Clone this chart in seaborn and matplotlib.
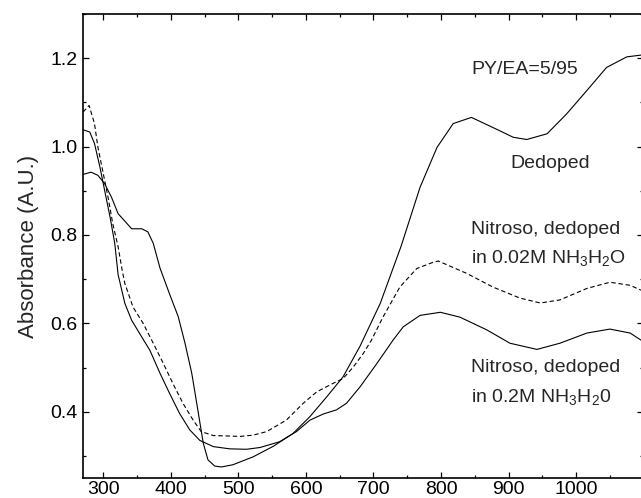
import numpy as np
import pandas as pd
import matplotlib
matplotlib.use("Agg")
import matplotlib.pyplot as plt
import seaborn as sns
from matplotlib.ticker import MultipleLocator

# Dedoped PY/EA=5/95 (solid)
wl_dedoped = [270, 282, 292, 302, 312, 322, 335, 342, 357, 366, 374, 384, 398, 411, 421, 431, 440,
              448, 455, 465, 475, 492, 522, 552, 581, 606, 631, 655, 680, 710, 741, 769, 794, 818,
              845, 877, 907, 927, 957, 986, 1016, 1045, 1075, 1096]
abs_dedoped = [0.937, 0.942, 0.935, 0.916, 0.886, 0.848, 0.826, 0.814, 0.814, 0.807, 0.781, 0.725,
               0.667, 0.615, 0.555, 0.487, 0.404, 0.329, 0.291, 0.277, 0.275, 0.280, 0.298, 0.322,
               0.351, 0.389, 0.434, 0.479, 0.548, 0.645, 0.775, 0.908, 0.998, 1.052, 1.066, 1.043,
               1.021, 1.016, 1.029, 1.074, 1.127, 1.179, 1.203, 1.207]

# Nitroso, dedoped in 0.02M NH3H2O (dashed)
wl_002 = [270, 279, 287, 292, 300, 307, 314, 322, 328, 332, 344, 359, 374, 389, 403, 418, 433, 445,
          463, 487, 502, 522, 542, 571, 596, 616, 640, 655, 670, 685, 697, 714, 739, 764, 788, 796,
          838, 877, 917, 947, 976, 1016, 1050, 1080, 1096]
abs_002 = [1.078, 1.093, 1.052, 0.999, 0.939, 0.886, 0.826, 0.773, 0.720, 0.690, 0.637, 0.600,
           0.555, 0.509, 0.464, 0.419, 0.381, 0.355, 0.346, 0.345, 0.344, 0.347, 0.355, 0.381,
           0.419, 0.445, 0.464, 0.475, 0.501, 0.532, 0.562, 0.614, 0.682, 0.724, 0.738, 0.741,
           0.713, 0.682, 0.657, 0.646, 0.653, 0.679, 0.693, 0.686, 0.675]

# Nitroso, dedoped in 0.2M NH3H20 (solid)
wl_02 = [270, 280, 287, 295, 302, 310, 317, 322, 332, 342, 357, 369, 384, 398, 413, 428, 443, 463,
         487, 512, 532, 561, 586, 606, 626, 645, 660, 680, 705, 729, 744, 769, 799, 828, 868, 902,
         942, 976, 1016, 1050, 1080, 1096]
abs_02 = [1.038, 1.033, 1.007, 0.954, 0.901, 0.841, 0.781, 0.710, 0.645, 0.607, 0.569, 0.539,
          0.487, 0.442, 0.396, 0.359, 0.335, 0.321, 0.316, 0.315, 0.319, 0.332, 0.355, 0.381,
          0.395, 0.404, 0.419, 0.456, 0.509, 0.562, 0.592, 0.618, 0.625, 0.614, 0.585, 0.555,
          0.541, 0.555, 0.578, 0.587, 0.578, 0.562]

x_ticks = [300, 400, 500, 600, 700, 800, 900, 1000]
y_ticks = [0.4, 0.6, 0.8, 1.0, 1.2]
y_label = "Absorbance (A.U.)"

sns.set_style("ticks")
plt.rcParams["font.family"] = ["Liberation Sans", "DejaVu Sans"]
plt.rcParams["mathtext.default"] = "regular"

W, H = 641, 498
fig = plt.figure(figsize=(W / 100, H / 100), dpi=100)
ax = fig.add_axes([83 / W, 20 / H, (643 - 83) / W, (478 - 14) / H])

df1 = pd.DataFrame({"wl": wl_dedoped, "a": abs_dedoped})
df2 = pd.DataFrame({"wl": wl_002, "a": abs_002})
df3 = pd.DataFrame({"wl": wl_02, "a": abs_02})

sns.lineplot(data=df1, x="wl", y="a", ax=ax, color="black", lw=0.8, sort=False)
sns.lineplot(data=df2, x="wl", y="a", ax=ax, color="black", lw=0.8, sort=False,
             linestyle=(0, (4, 2.5)))
sns.lineplot(data=df3, x="wl", y="a", ax=ax, color="black", lw=0.8, sort=False)

ax.set_xlim(270, 1099)
ax.set_ylim(0.25, 1.30)
ax.set_xticks(x_ticks)
ax.set_yticks(y_ticks)
ax.set_xticklabels([str(t) for t in x_ticks])
ax.set_yticklabels([f"{t:.1f}" for t in y_ticks])
ax.xaxis.set_minor_locator(MultipleLocator(50))
ax.yaxis.set_minor_locator(MultipleLocator(0.1))
ax.tick_params(which="both", direction="in", top=True, right=True, labelsize=14,
               width=0.9, colors="black")
ax.tick_params(which="major", length=4)
ax.tick_params(axis="x", which="major", pad=2)
ax.tick_params(axis="y", which="major", pad=4)
ax.tick_params(which="minor", length=2.5)
for s in ax.spines.values():
    s.set_linewidth(1.2)
    s.set_color("black")

ax.set_xlabel("")
ax.set_ylabel(y_label, fontsize=16, labelpad=8)

fs = 14
def put(x, y, s):
    fig.text(x / W, 1 - y / H, s, fontsize=fs, va="center", ha="left")

put(471, 70, "PY/EA=5/95")
put(510, 163, "Dedoped")
put(471, 230, "Nitroso, dedoped")
put(471, 258, "in 0.02M NH$_3$H$_2$O")
put(471, 368, "Nitroso, dedoped")
put(471, 397, "in 0.2M NH$_3$H$_2$0")

fig.savefig("out.png", dpi=100)
